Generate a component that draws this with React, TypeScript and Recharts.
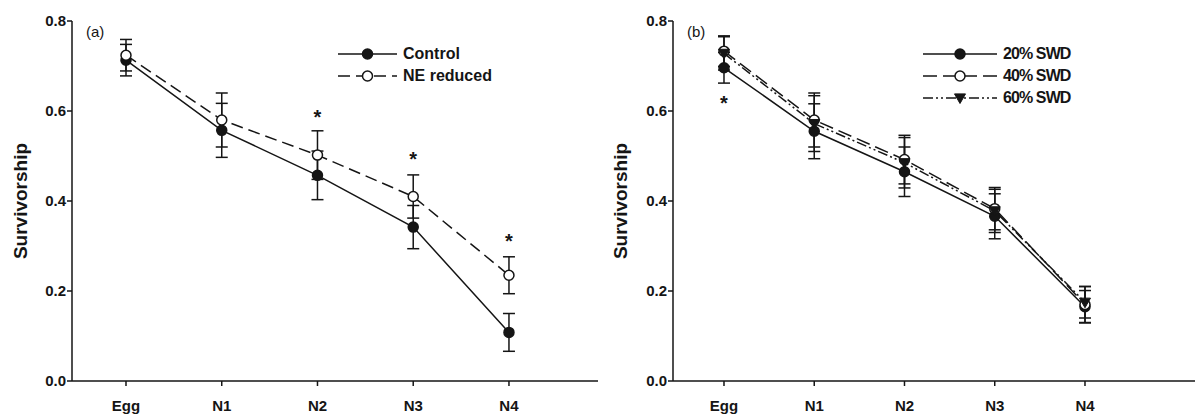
import React from "react";
import {
  ComposedChart,
  Line,
  XAxis,
  YAxis,
  ErrorBar,
  Legend,
  ReferenceDot,
} from "recharts";

const stages = ["Egg", "N1", "N2", "N3", "N4"];
const yTicks = [0, 0.2, 0.4, 0.6, 0.8];

// panel (a)
const controlMean = [0.713, 0.557, 0.457, 0.342, 0.108];
const controlSE = [0.035, 0.06, 0.054, 0.048, 0.042];
const neReducedMean = [0.724, 0.58, 0.502, 0.41, 0.235];
const neReducedSE = [0.035, 0.06, 0.054, 0.048, 0.041];
const sigStagesA = ["N2", "N3", "N4"];
const sigHeightsA = [0.595, 0.502, 0.32];

// panel (b)
const swd20Mean = [0.696, 0.555, 0.465, 0.366, 0.165];
const swd20SE = [0.034, 0.061, 0.055, 0.05, 0.036];
const swd40Mean = [0.733, 0.58, 0.492, 0.383, 0.17];
const swd40SE = [0.034, 0.06, 0.054, 0.047, 0.04];
const swd60Mean = [0.728, 0.572, 0.485, 0.378, 0.175];
const swd60SE = [0.037, 0.062, 0.056, 0.048, 0.035];
const sigStagesB = ["Egg"];
const sigHeightsB = [0.626];

const INK = "#151515";
const FONT = "'Liberation Sans', Arial, sans-serif";

type Marker = "filled" | "open" | "triangle";
type Series = {
  key: string;
  name: string;
  mean: number[];
  se: number[];
  dash?: string;
  marker: Marker;
};

const seriesA: Series[] = [
  { key: "control", name: "Control", mean: controlMean, se: controlSE, marker: "filled" },
  { key: "ne", name: "NE reduced", mean: neReducedMean, se: neReducedSE, dash: "12 6", marker: "open" },
];

const seriesB: Series[] = [
  { key: "s20", name: "20% SWD", mean: swd20Mean, se: swd20SE, marker: "filled" },
  { key: "s40", name: "40% SWD", mean: swd40Mean, se: swd40SE, dash: "14 6", marker: "open" },
  { key: "s60", name: "60% SWD", mean: swd60Mean, se: swd60SE, dash: "10 3 2 3 2 3", marker: "triangle" },
];

function markerShape(kind: Marker, cx: number, cy: number, key?: React.Key) {
  if (kind === "triangle") {
    const r = 5.5;
    return (
      <path
        key={key}
        d={`M${cx - r},${cy - r * 0.75} L${cx + r},${cy - r * 0.75} L${cx},${cy + r} Z`}
        fill={INK}
        stroke={INK}
      />
    );
  }
  return (
    <circle
      key={key}
      cx={cx}
      cy={cy}
      r={5}
      fill={kind === "filled" ? INK : "#fff"}
      stroke={INK}
      strokeWidth={1.5}
    />
  );
}

function LegendBox({
  series,
  lineW,
  textStyle,
}: {
  series: Series[];
  lineW: number;
  textStyle: React.CSSProperties;
}) {
  return (
    <div style={{ fontFamily: FONT }}>
      {series.map((s) => (
        <div key={s.key} style={{ display: "flex", alignItems: "center", height: 22 }}>
          <svg width={lineW} height={14} style={{ overflow: "visible" }}>
            <line
              x1={0}
              x2={lineW}
              y1={7}
              y2={7}
              stroke={INK}
              strokeWidth={1.5}
              strokeDasharray={s.dash}
            />
            {markerShape(s.marker, lineW / 2, 7)}
          </svg>
          <span style={{ marginLeft: 6, fontWeight: "bold", color: INK, ...textStyle }}>
            {s.name}
          </span>
        </div>
      ))}
    </div>
  );
}

function Panel({
  tag,
  series,
  sigStages,
  sigHeights,
  width,
  yAxisWidth,
  marginRight,
  xDomain,
  legendPos,
  legendLineW,
  legendText,
}: {
  tag: string;
  series: Series[];
  sigStages: string[];
  sigHeights: number[];
  width: number;
  yAxisWidth: number;
  marginRight: number;
  xDomain: [number, number];
  legendPos: { left: number; top: number };
  legendLineW: number;
  legendText: React.CSSProperties;
}) {
  const data = stages.map((st, i) => {
    const row: Record<string, number | string> = { x: i, stage: st };
    series.forEach((s) => {
      row[s.key] = s.mean[i];
      row[s.key + "Err"] = s.se[i];
    });
    return row;
  });

  const tickStyle = { fill: INK, fontSize: 15, fontWeight: "bold", fontFamily: FONT };

  return (
    <ComposedChart
      width={width}
      height={414}
      data={data}
      margin={{ top: 21, right: marginRight, bottom: 0, left: 0 }}
    >
      <XAxis
        type="number"
        dataKey="x"
        domain={xDomain}
        ticks={[0, 1, 2, 3, 4]}
        tickFormatter={(v) => stages[v] ?? ""}
        allowDataOverflow
        height={33}
        tickSize={5}
        tickMargin={14}
        stroke={INK}
        strokeWidth={1.5}
        tick={tickStyle}
      />
      <YAxis
        domain={[0, 0.8]}
        ticks={yTicks}
        tickFormatter={(v) => Number(v).toFixed(1)}
        width={yAxisWidth}
        tickSize={5}
        tickMargin={1}
        stroke={INK}
        strokeWidth={1.5}
        tick={tickStyle}
        label={{
          value: "Survivorship",
          angle: -90,
          position: "insideLeft",
          offset: 20,
          style: { textAnchor: "middle", fill: INK, fontSize: 19, fontWeight: "bold", fontFamily: FONT },
        }}
      />
      <Legend
        layout="vertical"
        align="center"
        verticalAlign="middle"
        wrapperStyle={{ left: legendPos.left, top: legendPos.top, width: 220 }}
        content={() => <LegendBox series={series} lineW={legendLineW} textStyle={legendText} />}
      />
      {series.map((s) => (
        <Line
          key={s.key}
          dataKey={s.key}
          name={s.name}
          stroke={INK}
          strokeWidth={1.5}
          strokeDasharray={s.dash}
          isAnimationActive={false}
          dot={(p: any) => markerShape(s.marker, p.cx, p.cy, `${s.key}-${p.index}`)}
          activeDot={false}
        >
          <ErrorBar
            dataKey={s.key + "Err"}
            direction="y"
            width={6}
            stroke={INK}
            strokeWidth={1.5}
          />
        </Line>
      ))}
      {sigStages.map((st, i) => (
        <ReferenceDot
          key={st}
          x={stages.indexOf(st)}
          y={sigHeights[i]}
          r={0}
          shape={(p: any) => (
            <text
              x={p.cx}
              y={p.cy + 11}
              textAnchor="middle"
              fontSize={20}
              fontWeight="bold"
              fontFamily={FONT}
              fill={INK}
            >
              *
            </text>
          )}
        />
      ))}
      <text x={yAxisWidth + 14} y={37} fontSize={15} fontFamily={FONT} fill={INK}>
        {tag}
      </text>
    </ComposedChart>
  );
}

export default function App() {
  return (
    <div style={{ position: "absolute", left: 0, top: 0, width: 1195, height: 414, background: "#fff" }}>
      <div style={{ position: "absolute", left: 0, top: 0 }}>
        <Panel
          tag="(a)"
          series={seriesA}
          sigStages={sigStagesA}
          sigHeights={sigHeightsA}
          width={600}
          yAxisWidth={72}
          marginRight={2}
          xDomain={[-0.564, 4.93]}
          legendPos={{ left: 338, top: 43 }}
          legendLineW={59}
          legendText={{ fontSize: 16 }}
        />
      </div>
      <div style={{ position: "absolute", left: 600, top: 0 }}>
        <Panel
          tag="(b)"
          series={seriesB}
          sigStages={sigStagesB}
          sigHeights={sigHeightsB}
          width={595}
          yAxisWidth={73}
          marginRight={0}
          xDomain={[-0.565, 5.219]}
          legendPos={{ left: 323, top: 43 }}
          legendLineW={74}
          legendText={{ fontSize: 16, letterSpacing: -0.9 }}
        />
      </div>
    </div>
  );
}
